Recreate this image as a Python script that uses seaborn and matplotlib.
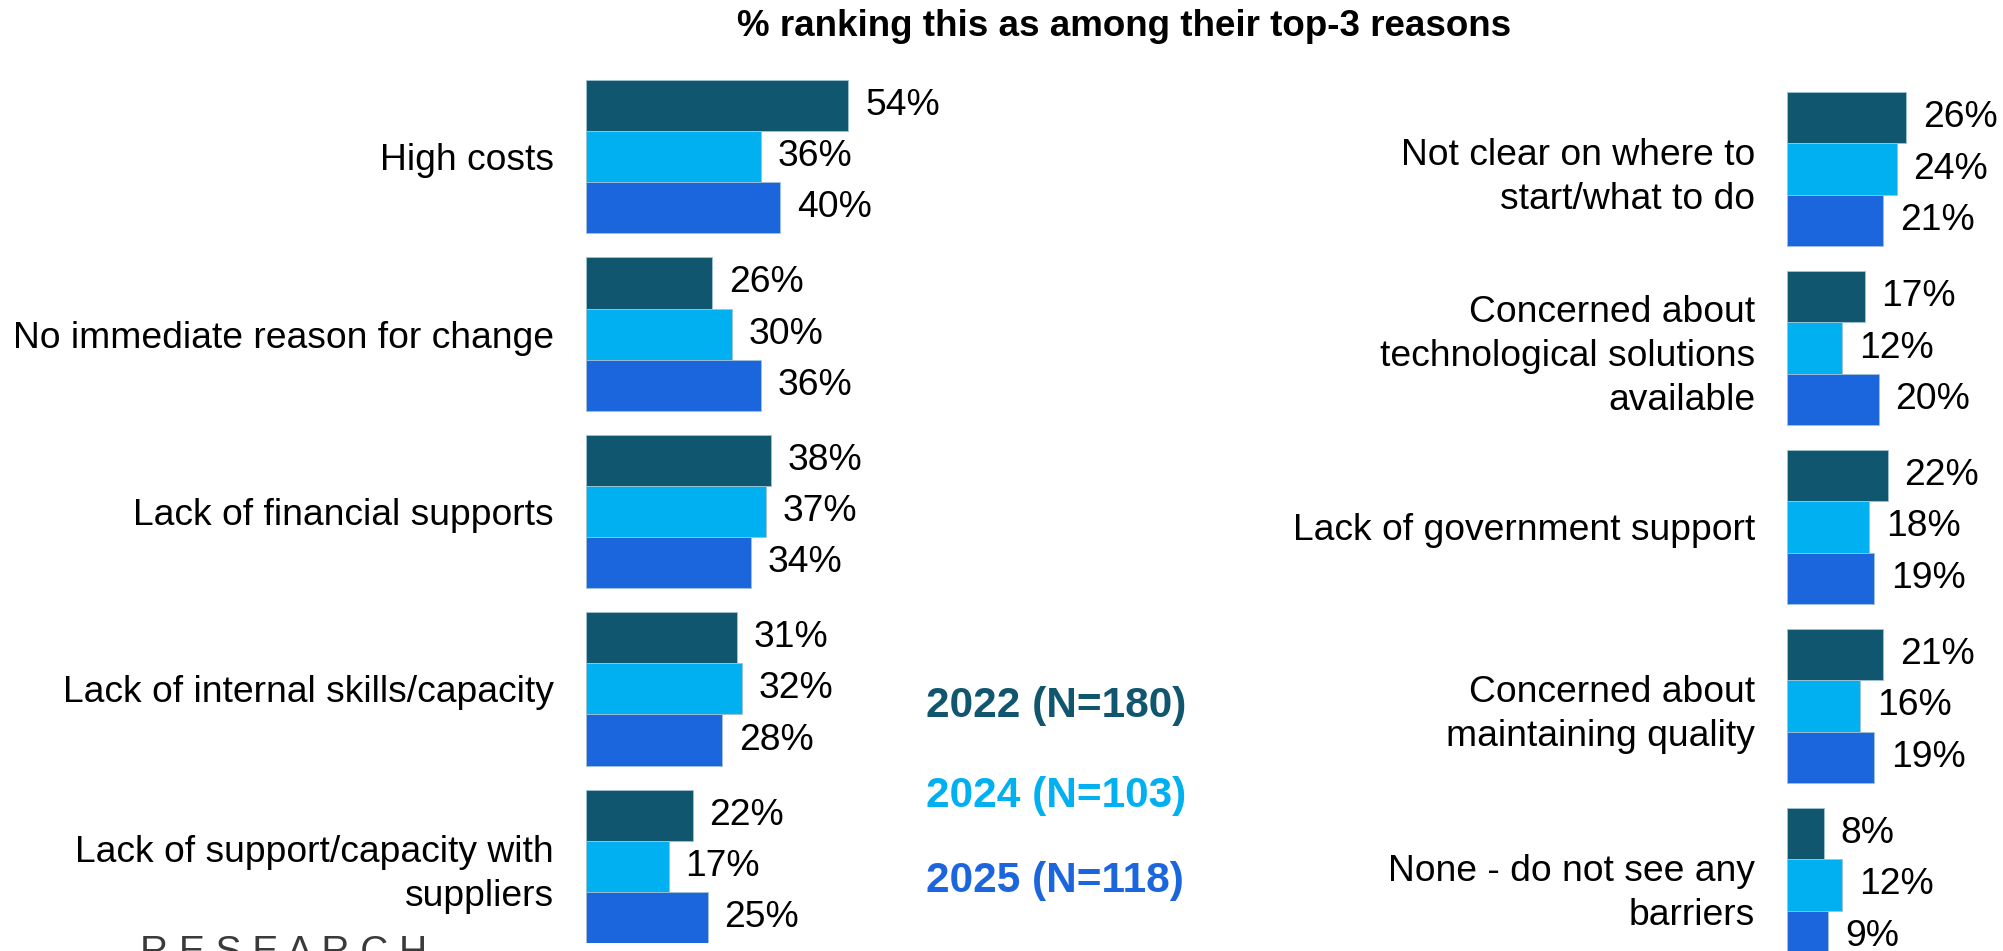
import matplotlib
matplotlib.use("Agg")
import matplotlib.pyplot as plt
import seaborn as sns
import pandas as pd

# Survey data: share ranking each barrier among their top-3 reasons
years = ["2022 (N=180)", "2024 (N=103)", "2025 (N=118)"]
colors = ["#11566F", "#00B0F0", "#1C66DD"]

left_categories = [
    "High costs",
    "No immediate reason for change",
    "Lack of financial supports",
    "Lack of internal skills/capacity",
    "Lack of support/capacity with\nsuppliers",
]
left_2022 = [54, 26, 38, 31, 22]
left_2024 = [36, 30, 37, 32, 17]
left_2025 = [40, 36, 34, 28, 25]

right_categories = [
    "Not clear on where to\nstart/what to do",
    "Concerned about\ntechnological solutions\navailable",
    "Lack of government support",
    "Concerned about\nmaintaining quality",
    "None - do not see any\nbarriers",
]
right_2022 = [26, 17, 22, 21, 8]
right_2024 = [24, 12, 18, 16, 12]
right_2025 = [21, 20, 19, 19, 9]

title = "% ranking this as among their top-3 reasons"

LABEL_SIZE = 26.8
VALUE_SIZE = 26.8


def to_long(categories, *series):
    rows = []
    for year, vals in zip(years, series):
        for cat, v in zip(categories, vals):
            rows.append({"reason": cat, "year": year, "pct": v})
    return pd.DataFrame(rows)


sns.set_theme(style="white")
plt.rcParams["font.family"] = ["Liberation Sans", "DejaVu Sans"]

W, H = 2003, 951
fig = plt.figure(figsize=(W / 100, H / 100), dpi=100)
fig.patch.set_facecolor("white")


def px_axes(x0, y_top, width, y_bottom):
    return fig.add_axes([x0 / W, 1 - y_bottom / H, width / W, (y_bottom - y_top) / H])


def draw_panel(ax, df, categories, xmax):
    sns.barplot(
        data=df, y="reason", x="pct", hue="year", order=categories,
        hue_order=years, palette=colors, orient="h", width=0.862,
        dodge=True, ax=ax, legend=False, edgecolor="#9fc3d6", linewidth=0.6,
        saturation=1,
    )
    ax.set_xlim(0, xmax)
    ax.set_ylim(4.431, -0.431)
    ax.set_xlabel("")
    ax.set_ylabel("")
    ax.set_xticks([])
    ax.tick_params(axis="y", length=0, pad=23, labelsize=LABEL_SIZE,
                   labelcolor="black")
    for lbl in ax.get_yticklabels():
        lbl.set_horizontalalignment("right")
        lbl.set_multialignment("right")
        lbl.set_linespacing(1.33)
    for s in ax.spines.values():
        s.set_visible(False)
    for cont in ax.containers:
        vals = [int(round(b.get_width())) for b in cont]
        ax.bar_label(cont, labels=[f"{v}%" for v in vals], padding=12,
                     fontsize=VALUE_SIZE, color="black")


ax_left = px_axes(586, 80, 486, 943)
draw_panel(ax_left, to_long(left_categories, left_2022, left_2024, left_2025),
           left_categories, 100)

ax_right = px_axes(1787, 92, 229, 962)
draw_panel(ax_right, to_long(right_categories, right_2022, right_2024, right_2025),
           right_categories, 50)

# Title
fig.text(1124 / W, 1 - 27 / H, title, ha="center", va="center",
         fontsize=26.5, fontweight="bold", color="black")

# Year legend as coloured text
for label, col, yc in zip(years, colors, [706, 796, 881]):
    fig.text(926 / W, 1 - yc / H, label, ha="left", va="center",
             fontsize=30.5, fontweight="bold", color=col)

# Footer brand text, partially cut at the bottom edge
fig.text(140 / W, 1 - 935 / H, "R E S E A R C H", ha="left", va="top",
         fontsize=28, color="#3a3a3a")

fig.savefig("out.png", dpi=100, facecolor="white")
